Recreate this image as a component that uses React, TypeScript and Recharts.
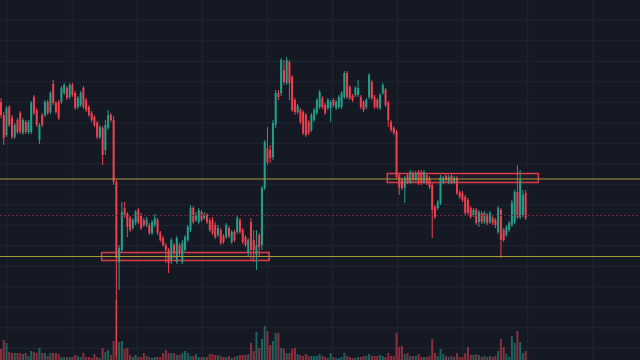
import { ComposedChart, Bar, Cell, XAxis, YAxis, CartesianGrid, ReferenceLine, ReferenceArea } from 'recharts';

// OHLC per candle (price units, higher = up), volume per candle
const opens = [
  258, 245, 225, 253, 242, 223, 240, 247, 227, 238, 228, 228, 263, 250, 220, 245, 245, 258, 248, 276,
  257, 258, 258, 267, 272, 263, 275, 267, 253, 255, 272, 260, 253, 247, 243, 237, 223, 232, 210, 232,
  245, 240, 178, 98, 110, 152, 146, 142, 132, 137, 150, 145, 140, 135, 135, 127, 135, 140, 127, 122,
  115, 110, 100, 115, 98, 115, 98, 110, 120, 130, 152, 140, 138, 148, 142, 145, 140, 140, 135, 125,
  130, 124, 123, 132, 118, 128, 128, 140, 130, 123, 107, 138, 120, 105, 125, 115, 172, 212, 210, 203,
  235, 267, 267, 290, 277, 298, 283, 260, 248, 250, 248, 245, 238, 230, 240, 247, 253, 262, 255, 252,
  252, 260, 252, 253, 253, 263, 287, 273, 264, 265, 265, 263, 258, 253, 263, 278, 263, 260, 252, 267,
  270, 257, 238, 232, 228, 185, 180, 172, 185, 178, 187, 180, 188, 188, 178, 185, 182, 175, 153, 152,
  157, 178, 184, 178, 184, 178, 182, 168, 167, 163, 160, 152, 145, 150, 138, 147, 138, 145, 138, 142,
  140, 128, 150, 130, 125, 130, 135, 138, 168, 143, 145, 167,
];
const highs = [
  262, 248, 254, 255, 245, 237, 242, 249, 242, 240, 240, 259, 265, 252, 237, 247, 260, 260, 269, 280,
  259, 260, 274, 277, 274, 277, 277, 269, 264, 269, 274, 262, 255, 249, 245, 239, 235, 234, 240, 250,
  247, 244, 180, 115, 158, 158, 148, 144, 142, 150, 152, 147, 142, 143, 137, 140, 146, 142, 129, 124,
  117, 112, 122, 117, 124, 117, 120, 125, 135, 155, 154, 148, 152, 150, 148, 147, 142, 143, 138, 135,
  132, 126, 137, 134, 130, 130, 145, 142, 132, 125, 122, 142, 130, 130, 127, 174, 220, 233, 215, 240,
  270, 270, 302, 300, 303, 300, 285, 262, 256, 252, 250, 247, 240, 247, 252, 262, 270, 264, 257, 262,
  260, 262, 260, 265, 269, 289, 289, 275, 266, 274, 280, 265, 260, 262, 287, 280, 265, 262, 267, 277,
  272, 259, 240, 234, 230, 187, 182, 184, 187, 190, 189, 189, 190, 190, 190, 187, 184, 177, 155, 160,
  185, 184, 186, 185, 186, 184, 184, 170, 169, 165, 162, 154, 152, 152, 150, 149, 149, 147, 149, 144,
  142, 154, 152, 132, 135, 139, 160, 170, 195, 190, 170, 170,
];
const lows = [
  242, 215, 223, 233, 221, 221, 226, 226, 225, 226, 226, 226, 245, 233, 216, 233, 243, 245, 246, 255,
  246, 240, 256, 265, 260, 261, 263, 250, 251, 253, 251, 248, 243, 238, 233, 221, 221, 195, 205, 230,
  238, 175, 4, 70, 108, 142, 123, 128, 130, 135, 136, 130, 133, 133, 125, 125, 133, 125, 118, 113,
  97, 87, 96, 102, 96, 104, 96, 108, 118, 128, 136, 138, 136, 138, 140, 136, 128, 125, 121, 123,
  115, 116, 121, 122, 116, 118, 126, 126, 116, 113, 103, 100, 98, 90, 104, 110, 170, 195, 197, 200,
  232, 260, 264, 275, 275, 260, 248, 245, 246, 236, 225, 223, 225, 228, 238, 245, 251, 251, 245, 250,
  238, 253, 250, 251, 251, 261, 261, 260, 258, 263, 263, 251, 248, 251, 261, 260, 251, 251, 250, 265,
  253, 233, 228, 225, 181, 165, 170, 157, 176, 176, 178, 178, 175, 175, 176, 175, 171, 122, 141, 150,
  155, 176, 178, 176, 176, 176, 165, 161, 158, 145, 145, 141, 143, 135, 133, 136, 136, 135, 136, 135,
  132, 126, 102, 118, 123, 128, 133, 136, 141, 141, 143, 140,
];
const closes = [
  245, 222, 252, 235, 223, 235, 228, 228, 240, 228, 238, 257, 247, 235, 235, 235, 258, 247, 267, 257,
  248, 242, 272, 275, 262, 275, 265, 252, 262, 267, 253, 250, 245, 240, 235, 223, 233, 205, 235, 245,
  240, 178, 102, 112, 148, 144, 133, 130, 140, 148, 138, 132, 135, 140, 127, 138, 142, 127, 120, 115,
  110, 97, 120, 108, 122, 108, 117, 123, 133, 152, 138, 145, 150, 140, 145, 138, 130, 127, 123, 132,
  117, 118, 135, 124, 128, 120, 142, 128, 118, 115, 120, 110, 110, 115, 113, 172, 218, 198, 202, 237,
  267, 263, 300, 278, 300, 277, 250, 248, 254, 238, 227, 225, 227, 245, 250, 260, 268, 253, 247, 260,
  258, 255, 258, 263, 267, 287, 263, 262, 260, 272, 272, 253, 250, 260, 285, 262, 253, 253, 265, 275,
  255, 240, 230, 227, 183, 172, 172, 182, 178, 188, 180, 187, 177, 177, 188, 177, 173, 150, 143, 158,
  183, 182, 180, 183, 178, 182, 167, 163, 160, 147, 147, 143, 150, 137, 148, 138, 147, 137, 147, 137,
  135, 152, 120, 120, 133, 137, 157, 168, 143, 180, 165, 142,
];
const volumes = [
  11, 20, 17, 8, 7, 7, 7, 7, 6, 7, 4, 9, 8, 7, 12, 7, 7, 4, 7, 7,
  7, 6, 3, 3, 3, 3, 3, 5, 4, 3, 7, 3, 3, 2, 6, 3, 2, 12, 8, 10,
  5, 19, 60, 18, 19, 11, 12, 5, 3, 5, 3, 3, 7, 4, 3, 2, 3, 3, 3, 7,
  10, 7, 7, 7, 5, 5, 7, 9, 7, 4, 4, 6, 3, 3, 3, 3, 6, 6, 5, 5,
  4, 3, 3, 4, 2, 3, 4, 5, 5, 5, 6, 17, 9, 28, 12, 21, 34, 29, 15, 19,
  27, 27, 12, 11, 7, 7, 11, 12, 6, 5, 4, 6, 4, 4, 4, 4, 6, 4, 3, 2,
  7, 3, 2, 2, 3, 7, 4, 3, 2, 2, 3, 3, 4, 4, 6, 4, 4, 4, 5, 4,
  3, 7, 4, 4, 27, 13, 14, 6, 7, 4, 4, 4, 6, 3, 3, 3, 4, 21, 7, 4,
  11, 6, 4, 3, 4, 3, 7, 3, 3, 7, 13, 5, 5, 6, 5, 3, 4, 3, 4, 3,
  4, 9, 21, 13, 6, 3, 24, 17, 29, 18, 7, 9,
];

// horizontal levels and boxes drawn on the chart
const keyLevels = [181, 103.5];
const midLevel = 144.5;
const zones = [
  { from: 37, to: 97, low: 99.5, high: 107.5 },
  { from: 141, to: 195, low: 177.5, high: 186.5 },
];

const SLOTS = 233;
const W = 640;
const H = 360;
const BG = '#151924';
const GRID = '#212532';
const UP = '#22a08c';
const DOWN = '#f0404f';
const VOL_UP = 'rgba(34,160,140,0.55)';
const VOL_DOWN = 'rgba(240,64,79,0.55)';

const rows = Array.from({ length: SLOTS }, (_, i) =>
  i < opens.length
    ? { i, o: opens[i], h: highs[i], l: lows[i], c: closes[i], v: volumes[i] }
    : { i }
);

const gridX = Array.from({ length: 10 }, (_, k) => 7 + k * 65.1);
const gridY = Array.from({ length: 17 }, (_, k) => 20.3 + k * 20.5);

const Candle = (props: any) => {
  const { x, y, width, height, payload } = props;
  if (payload == null || payload.o == null || !height) return <g />;
  const top = Math.min(y, y + height);
  const span = Math.abs(height);
  const k = span / (payload.h - payload.l);
  const color = payload.c >= payload.o ? UP : DOWN;
  const bodyTop = top + (payload.h - Math.max(payload.o, payload.c)) * k;
  const bodyH = Math.max(1, Math.abs(payload.o - payload.c) * k);
  const cx = x + width / 2;
  return (
    <g>
      <line x1={cx} x2={cx} y1={top} y2={top + span} stroke={color} strokeWidth={1} />
      <rect x={x} y={bodyTop} width={width} height={bodyH} fill={color} />
    </g>
  );
};

export default function App() {
  return (
    <div style={{ position: 'absolute', left: 0, top: 0, width: W, height: H, background: BG }}>
      <ComposedChart width={W} height={H} data={rows} margin={{ top: 0, right: 0, bottom: 0, left: 0 }}>
        <XAxis xAxisId="p" dataKey="i" type="category" hide />
        <XAxis xAxisId="v" dataKey="i" type="category" hide />
        <YAxis yAxisId="p" type="number" domain={[0, 360]} allowDataOverflow hide />
        <YAxis yAxisId="v" type="number" domain={[0, 360]} allowDataOverflow hide />
        <CartesianGrid
          xAxisId="p"
          yAxisId="p"
          stroke={GRID}
          horizontalPoints={gridY}
          verticalPoints={gridX}
        />
        <Bar xAxisId="v" yAxisId="v" dataKey="v" barSize={2} isAnimationActive={false}>
          {rows.map((r: any) => (
            <Cell key={r.i} fill={r.c >= r.o ? VOL_UP : VOL_DOWN} />
          ))}
        </Bar>
        <ReferenceLine xAxisId="p" yAxisId="p" y={midLevel} stroke="#6e2a34" strokeDasharray="2 2" />
        {keyLevels.map((lv) => (
          <ReferenceLine key={lv} xAxisId="p" yAxisId="p" y={lv} stroke="#a39c38" strokeWidth={1.2} />
        ))}
        {zones.map((z) => (
          <ReferenceArea
            key={z.from}
            xAxisId="p"
            yAxisId="p"
            x1={z.from}
            x2={z.to}
            y1={z.low}
            y2={z.high}
            stroke="#d93c4a"
            strokeWidth={1.5}
            fill="rgba(240,64,79,0.05)"
            fillOpacity={1}
          />
        ))}
        <Bar
          xAxisId="p"
          yAxisId="p"
          dataKey={(d: any) => (d.o == null ? undefined : [d.l, d.h])}
          barSize={2}
          shape={Candle}
          isAnimationActive={false}
        />
      </ComposedChart>
    </div>
  );
}
